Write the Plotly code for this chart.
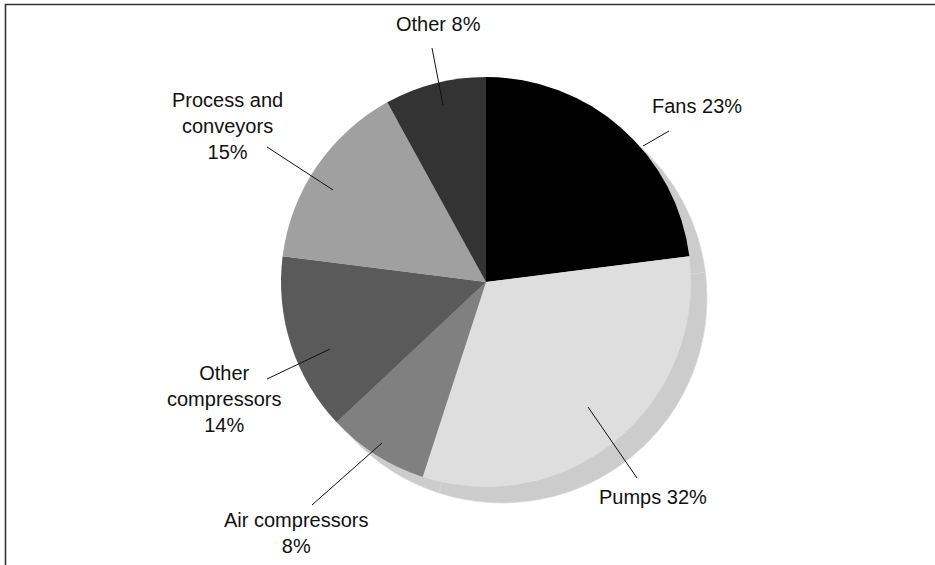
import plotly.graph_objects as go

W, H = 935, 565

# Data
categories = ["Fans", "Pumps", "Air compressors", "Other compressors", "Process and conveyors", "Other"]
shares = [23, 32, 8, 14, 15, 8]
label_texts = ["Fans 23%", "Pumps 32%", "Air compressors<br>8%", "Other<br>compressors<br>14%",
               "Process and<br>conveyors<br>15%", "Other 8%"]

# Styles
slice_colors = ["#000000", "#dedede", "#808080", "#5a5a5a", "#a0a0a0", "#333333"]
shadow_color = "#cccccc"

# Layout geometry (pixels)
cx, cy, r = 486, 282, 205
shadow_dx, shadow_dy = 16, 16

label_pos = [(697, 106), (653, 497), (296, 533), (224, 399), (227, 126), (438, 24)]
leader_lines = [((643, 146), (669, 131)),
                ((588, 407), (637, 478)),
                ((382, 443), (312, 505)),
                ((330, 349), (267, 379)),
                ((333, 190), (267, 147)),
                ((443, 105), (432, 48))]


def px(x):
    return x / W


def py(y):
    return 1 - y / H


def dom(cx_, cy_):
    return dict(x=[px(cx_ - r), px(cx_ + r)], y=[py(cy_ + r), py(cy_ - r)])


fig = go.Figure()
fig.add_trace(go.Pie(
    labels=categories, values=shares, sort=False, direction="clockwise",
    marker=dict(colors=[shadow_color] * len(shares), line=dict(color="#d8d8d8", width=0.6)),
    textinfo="none", hoverinfo="skip", showlegend=False,
    domain=dom(cx + shadow_dx, cy + shadow_dy),
))
fig.add_trace(go.Pie(
    labels=categories, values=shares, sort=False, direction="clockwise",
    marker=dict(colors=slice_colors, line=dict(width=0)),
    textinfo="none", showlegend=False,
    domain=dom(cx, cy),
))

annotations = []
for t, (x, y) in zip(label_texts, label_pos):
    annotations.append(dict(x=px(x), y=py(y), xref="paper", yref="paper", text=t,
                            showarrow=False, xanchor="center", yanchor="middle",
                            align="center", font=dict(size=20, color="#111111")))

shapes = []
for (a, b) in leader_lines:
    shapes.append(dict(type="line", xref="paper", yref="paper",
                       x0=px(a[0]), y0=py(a[1]), x1=px(b[0]), y1=py(b[1]),
                       line=dict(color="#111111", width=1)))
# frame
shapes.append(dict(type="rect", xref="paper", yref="paper",
                   x0=px(5.5), y0=py(H + 10), x1=px(W + 10), y1=py(4.5),
                   line=dict(color="#333333", width=1.6), fillcolor="rgba(0,0,0,0)"))

fig.update_layout(
    width=W, height=H,
    margin=dict(l=0, r=0, t=0, b=0),
    paper_bgcolor="white", plot_bgcolor="white",
    font=dict(family="Liberation Sans, Arial, Helvetica, sans-serif", color="#111111"),
    annotations=annotations, shapes=shapes,
)

fig.write_html("out.html", config={"displayModeBar": False},
               post_script="document.body.style.margin='0';document.body.style.overflow='hidden';")
